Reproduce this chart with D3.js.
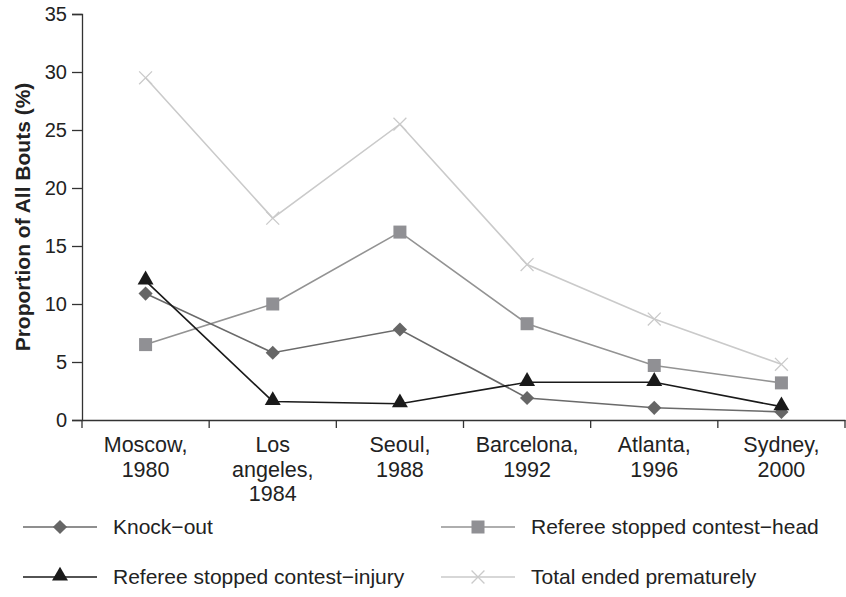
<!DOCTYPE html>
<html>
<head>
<meta charset="utf-8">
<script src="https://cdn.jsdelivr.net/npm/d3@7"></script>
<style>
    body { margin: 0; background: #fff; }
    svg text { font-family: "Liberation Sans", Arial, sans-serif; fill: #222; }
</style>
</head>
<body>
<svg id="chart" width="846" height="597"></svg>
<script>
/* chart data */
const games = [["Moscow,", "1980"], ["Los", "angeles,", "1984"], ["Seoul,", "1988"],
    ["Barcelona,", "1992"], ["Atlanta,", "1996"], ["Sydney,", "2000"]];
const knockOut = [10.9, 5.8, 7.8, 1.9, 1.05, 0.7];
const stoppedHead = [6.5, 10.0, 16.2, 8.3, 4.7, 3.2];
const stoppedInjury = [12.0, 1.6, 1.4, 3.25, 3.25, 1.15];
const totalEnded = [29.5, 17.4, 25.5, 13.4, 8.7, 4.8];
const yTicks = [0, 5, 10, 15, 20, 25, 30, 35];

const series = [
    { name: "Knock\u2212out", values: knockOut, line: "#6a6a6a", fill: "#666", marker: "diamond", col: 0, row: 0 },
    { name: "Referee stopped contest\u2212head", values: stoppedHead, line: "#939393", fill: "#909094", marker: "square", col: 1, row: 0 },
    { name: "Referee stopped contest\u2212injury", values: stoppedInjury, line: "#1a1a1a", fill: "#1a1a1a", marker: "triangle", col: 0, row: 1 },
    { name: "Total ended prematurely", values: totalEnded, line: "#cacaca", fill: "#cacaca", marker: "cross", col: 1, row: 1 }
];

const svg = d3.select("#chart");
const plot = { left: 82, right: 845, top: 14, bottom: 420 };

const x = d3.scaleBand().domain(games.map((d, i) => i)).range([plot.left, plot.right]);
const y = d3.scaleLinear().domain([0, 35]).range([plot.bottom, plot.top]);

// axes
const yAxis = svg.append("g")
    .attr("transform", `translate(${plot.left},0)`)
    .call(d3.axisLeft(y).tickValues(yTicks).tickSize(10).tickPadding(5));
yAxis.selectAll("text").style("font-size", "20px");

svg.append("g")
    .attr("transform", `translate(0,${plot.bottom})`)
    .call(d3.axisBottom(x).tickSize(0).tickFormat(""));
svg.append("g").selectAll("line")
    .data(d3.range(games.length + 1))
    .join("line")
    .attr("x1", i => plot.left + i * x.step())
    .attr("x2", i => plot.left + i * x.step())
    .attr("y1", plot.bottom).attr("y2", plot.bottom + 8)
    .attr("stroke", "#333").attr("stroke-width", 1.3);

svg.selectAll(".domain").attr("stroke", "#333").attr("stroke-width", 1.3);
yAxis.selectAll(".tick line").attr("stroke", "#333").attr("stroke-width", 1.3);

// category labels
const lab = svg.append("g").selectAll("text")
    .data(games)
    .join("text")
    .attr("text-anchor", "middle")
    .style("font-size", "21.5px");
lab.each(function (d, i) {
    d3.select(this).selectAll("tspan")
        .data(d)
        .join("tspan")
        .attr("x", x(i) + x.bandwidth() / 2)
        .attr("y", (t, j) => 452 + j * 24.5)
        .text(t => t);
});

svg.append("text")
    .attr("transform", `translate(30,${(plot.top + plot.bottom) / 2}) rotate(-90)`)
    .attr("text-anchor", "middle")
    .style("font-size", "21px")
    .style("font-weight", "bold")
    .text("Proportion of All Bouts (%)");

// markers
function drawMarker(g, type, color, cx, cy) {
    if (type === "diamond") {
        g.append("path").attr("d", d3.symbol(d3.symbolSquare, 100)())
            .attr("transform", `translate(${cx},${cy}) rotate(45)`)
            .attr("fill", color);
    } else if (type === "square") {
        g.append("rect").attr("x", cx - 6.5).attr("y", cy - 6.5)
            .attr("width", 13).attr("height", 13).attr("fill", color);
    } else if (type === "triangle") {
        g.append("path").attr("d", d3.symbol(d3.symbolTriangle, 110)())
            .attr("transform", `translate(${cx},${cy - 1})`)
            .attr("fill", color);
    } else {
        g.append("path").attr("d", d3.symbol(d3.symbolX, 110)())
            .attr("transform", `translate(${cx},${cy})`)
            .attr("fill", "none").attr("stroke", color).attr("stroke-width", 1.3);
    }
}

const line = d3.line()
    .x((d, i) => x(i) + x.bandwidth() / 2)
    .y(d => y(d));

const drawOrder = [3, 1, 0, 2];
drawOrder.forEach(k => {
    const s = series[k];
    const g = svg.append("g");
    g.append("path")
        .datum(s.values)
        .attr("d", line)
        .attr("fill", "none")
        .attr("stroke", s.line)
        .attr("stroke-width", 1.6);
    s.values.forEach((v, i) => drawMarker(g, s.marker, s.fill, x(i) + x.bandwidth() / 2, y(v)));
});

// legend
const legendX = [23, 441], legendY = [527, 577];
series.forEach(s => {
    const lx = legendX[s.col], ly = legendY[s.row];
    const g = svg.append("g");
    g.append("line")
        .attr("x1", lx).attr("x2", lx + 74)
        .attr("y1", ly).attr("y2", ly)
        .attr("stroke", s.line).attr("stroke-width", 1.6);
    drawMarker(g, s.marker, s.fill, lx + 37, ly);
    g.append("text")
        .attr("x", lx + 90)
        .attr("y", ly + 7)
        .style("font-size", "21px")
        .text(s.name);
});
</script>
</body>
</html>
